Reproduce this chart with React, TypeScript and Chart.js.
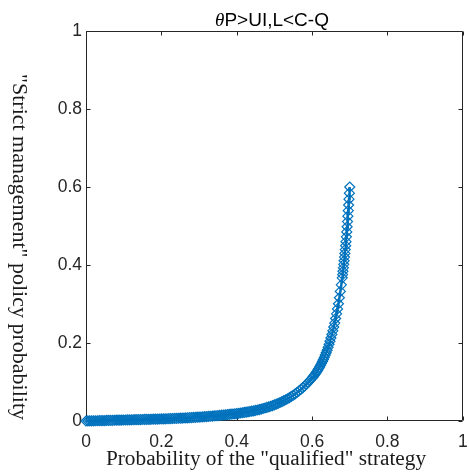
import React, { useEffect, useRef } from 'react';
import { Chart, registerables } from 'chart.js';

Chart.register(...registerables);

// Probability of the "qualified" strategy (x)
const qualifiedProb = [
  0.000, 0.005, 0.010, 0.015, 0.020, 0.025, 0.030, 0.035, 0.040, 0.045,
  0.050, 0.055, 0.060, 0.065, 0.070, 0.075, 0.080, 0.085, 0.090, 0.095,
  0.100, 0.105, 0.110, 0.115, 0.120, 0.125, 0.130, 0.135, 0.140, 0.145,
  0.150, 0.155, 0.160, 0.165, 0.170, 0.175, 0.180, 0.185, 0.190, 0.195,
  0.200, 0.205, 0.210, 0.215, 0.220, 0.225, 0.230, 0.235, 0.240, 0.245,
  0.250, 0.255, 0.260, 0.265, 0.270, 0.275, 0.280, 0.285, 0.290, 0.295,
  0.300, 0.305, 0.310, 0.315, 0.320, 0.325, 0.330, 0.335, 0.340, 0.345,
  0.350, 0.355, 0.360, 0.365, 0.370, 0.375, 0.380, 0.385, 0.390, 0.395,
  0.400, 0.405, 0.410, 0.415, 0.420, 0.425, 0.430, 0.435, 0.440, 0.445,
  0.450, 0.455, 0.460, 0.465, 0.470, 0.475, 0.480, 0.485, 0.490, 0.495,
  0.500, 0.505, 0.510, 0.515, 0.520, 0.525, 0.530, 0.535, 0.540, 0.545,
  0.550, 0.555, 0.560, 0.565, 0.570, 0.575, 0.580, 0.585, 0.590, 0.595,
  0.600, 0.6025, 0.605, 0.6075, 0.61, 0.6125, 0.615, 0.6175, 0.62,
  0.6225, 0.625, 0.6275, 0.63, 0.6325, 0.635, 0.6375, 0.64,
  0.6425, 0.645, 0.6475, 0.65, 0.6525, 0.655, 0.6575, 0.66,
  0.6625, 0.665, 0.6675, 0.67, 0.6725, 0.675, 0.6775, 0.68,
  0.681, 0.682, 0.683, 0.684, 0.685, 0.686, 0.687, 0.688, 0.689, 0.69,
  0.691, 0.692, 0.693, 0.694, 0.695, 0.696, 0.697, 0.698, 0.699, 0.70,
];

// "Strict management" policy probability (y)
const strictProb = [
  0.0000, 0.0001, 0.0002, 0.0004, 0.0005, 0.0006, 0.0007, 0.0009, 0.0010, 0.0011,
  0.0012, 0.0014, 0.0015, 0.0016, 0.0017, 0.0019, 0.0020, 0.0021, 0.0022, 0.0024,
  0.0025, 0.0026, 0.0027, 0.0029, 0.0030, 0.0032, 0.0033, 0.0034, 0.0035, 0.0037,
  0.0038, 0.0040, 0.0041, 0.0042, 0.0043, 0.0045, 0.0046, 0.0048, 0.0049, 0.0051,
  0.0052, 0.0054, 0.0056, 0.0058, 0.0060, 0.0062, 0.0064, 0.0066, 0.0068, 0.0070,
  0.0072, 0.0075, 0.0077, 0.0080, 0.0082, 0.0085, 0.0088, 0.0091, 0.0094, 0.0097,
  0.0100, 0.0103, 0.0107, 0.0110, 0.0114, 0.0118, 0.0122, 0.0126, 0.0131, 0.0135,
  0.0140, 0.0144, 0.0149, 0.0154, 0.0159, 0.0164, 0.0169, 0.0174, 0.0180, 0.0185,
  0.0191, 0.0198, 0.0205, 0.0212, 0.0219, 0.0227, 0.0235, 0.0243, 0.0252, 0.0261,
  0.0270, 0.0282, 0.0294, 0.0307, 0.0320, 0.0334, 0.0348, 0.0363, 0.0378, 0.0394,
  0.0411, 0.0431, 0.0452, 0.0474, 0.0496, 0.0520, 0.0545, 0.0571, 0.0599, 0.0629,
  0.0660, 0.0695, 0.0731, 0.0769, 0.0809, 0.0851, 0.0896, 0.0943, 0.0992, 0.1045,
  0.1100, 0.1131, 0.1162, 0.1195, 0.1228, 0.1265, 0.1304, 0.1344, 0.1385,
  0.1431, 0.1478, 0.1527, 0.1577, 0.1633, 0.1692, 0.1752, 0.1814,
  0.1888, 0.1965, 0.2045, 0.2129, 0.2219, 0.2312, 0.2409, 0.2511,
  0.2627, 0.2748, 0.2874, 0.3006, 0.3160, 0.3322, 0.3492, 0.3671,
  0.3755, 0.3840, 0.3927, 0.4017, 0.4108, 0.4202, 0.4297, 0.4395, 0.4495, 0.4598,
  0.4722, 0.4849, 0.4980, 0.5114, 0.5252, 0.5394, 0.5539, 0.5689, 0.5842, 0.6000,
];

const tickValues = [0, 0.2, 0.4, 0.6, 0.8, 1];
const xTickLabels = ['0', '0.2', '0.4', '0.6', '0.8', '1'];
const yTickLabels = ['0', '0.2', '0.4', '0.6', '0.8', '1'];

const titleSymbol = 'θ';
const titleRest = 'P>UI,L<C-Q';
const xAxisLabel = 'Probability of the "qualified" strategy';
const yAxisLabel = '"Strict management" policy probability';

const AXIS_COLOR = '#262626';
const LINE_COLOR = '#0072BD';
const SANS = '"Liberation Sans", Arial, Helvetica, sans-serif';
const SERIF = '"Liberation Serif", "Times New Roman", serif';

const framePlugin = {
  id: 'matlabFrame',
  beforeDatasetsDraw(chart: any) {
    const { ctx, chartArea: a, scales } = chart;
    const L = Math.round(a.left) + 0.5;
    const R = Math.round(a.right) - 0.5;
    const T = Math.round(a.top) + 0.5;
    const B = Math.round(a.bottom) - 0.5;
    ctx.save();
    ctx.strokeStyle = AXIS_COLOR;
    ctx.lineWidth = 1;
    ctx.beginPath();
    ctx.moveTo(L, T); ctx.lineTo(R, T); ctx.lineTo(R, B); ctx.lineTo(L, B); ctx.closePath();
    const tl = 4;
    tickValues.forEach((v) => {
      const px = Math.round(scales.x.getPixelForValue(v)) + 0.5;
      ctx.moveTo(px, B); ctx.lineTo(px, B - tl);
      ctx.moveTo(px, T); ctx.lineTo(px, T + tl);
      const py = Math.round(scales.y.getPixelForValue(v)) + 0.5;
      ctx.moveTo(L, py); ctx.lineTo(L + tl, py);
      ctx.moveTo(R, py); ctx.lineTo(R - tl, py);
    });
    ctx.stroke();
    ctx.restore();
  },
  afterDraw(chart: any) {
    const { ctx } = chart;
    ctx.save();
    // Title
    ctx.fillStyle = '#000000';
    ctx.textBaseline = 'alphabetic';
    ctx.textAlign = 'left';
    ctx.font = `italic 19px ${SERIF}`;
    const w1 = ctx.measureText(titleSymbol).width;
    ctx.font = `19px ${SANS}`;
    const w2 = ctx.measureText(titleRest).width;
    const startX = 272 - (w1 + w2) / 2;
    ctx.font = `italic 19px ${SERIF}`;
    ctx.fillText(titleSymbol, startX, 26);
    ctx.font = `19px ${SANS}`;
    ctx.fillText(titleRest, startX + w1, 26);
    // X axis label
    ctx.font = `21.3px ${SERIF}`;
    ctx.fillStyle = '#1a1a1a';
    ctx.textAlign = 'center';
    ctx.fillText(xAxisLabel, 266, 465);
    // Y axis label (reads top to bottom)
    ctx.translate(19, 247);
    ctx.rotate(Math.PI / 2);
    ctx.textBaseline = 'middle';
    ctx.font = `22px ${SERIF}`;
    ctx.fillText(yAxisLabel, 0, 0);
    ctx.restore();
  },
};

export default function App() {
  const canvasRef = useRef<HTMLCanvasElement | null>(null);

  useEffect(() => {
    document.body.style.margin = '0';
    const canvas = canvasRef.current;
    if (!canvas) return;
    const points = qualifiedProb.map((x, i) => ({ x, y: strictProb[i] }));
    const chart = new Chart(canvas, {
      type: 'scatter',
      data: {
        datasets: [
          {
            data: points,
            showLine: true,
            borderColor: LINE_COLOR,
            borderWidth: 2.5,
            pointStyle: 'rectRot',
            pointRadius: 5,
            pointBorderWidth: 1.2,
            pointBorderColor: LINE_COLOR,
            pointBackgroundColor: 'rgba(0,0,0,0)',
            clip: false as any,
          },
        ],
      },
      options: {
        responsive: false,
        animation: false,
        devicePixelRatio: 1,
        layout: { padding: { top: 31, right: 3, left: 0, bottom: 0 } },
        plugins: {
          legend: { display: false },
          tooltip: { enabled: false },
          title: { display: false },
        },
        scales: {
          x: {
            type: 'linear',
            min: 0,
            max: 1,
            afterFit: (s: any) => {
              s.height = 55;
              s.paddingLeft = 0;
              s.paddingRight = 0;
            },
            afterBuildTicks: (s: any) => { s.ticks = tickValues.map((v) => ({ value: v })); },
            grid: { display: false, drawTicks: false },
            border: { display: false },
            ticks: {
              padding: 11,
              maxRotation: 0,
              autoSkip: false,
              color: AXIS_COLOR,
              font: { family: SANS, size: 17.5 },
              callback: (_v: any, i: number) => xTickLabels[i],
            },
          },
          y: {
            type: 'linear',
            min: 0,
            max: 1,
            afterFit: (s: any) => {
              s.width = 86;
              s.paddingTop = 0;
              s.paddingBottom = 0;
            },
            afterBuildTicks: (s: any) => { s.ticks = tickValues.map((v) => ({ value: v })); },
            grid: { display: false, drawTicks: false },
            border: { display: false },
            ticks: {
              padding: 4,
              autoSkip: false,
              color: AXIS_COLOR,
              font: { family: SANS, size: 17.5 },
              callback: (_v: any, i: number) => yTickLabels[i],
            },
          },
        },
      },
      plugins: [framePlugin],
    });
    return () => chart.destroy();
  }, []);

  return <canvas ref={canvasRef} width={469} height={476} style={{ display: 'block' }} />;
}
